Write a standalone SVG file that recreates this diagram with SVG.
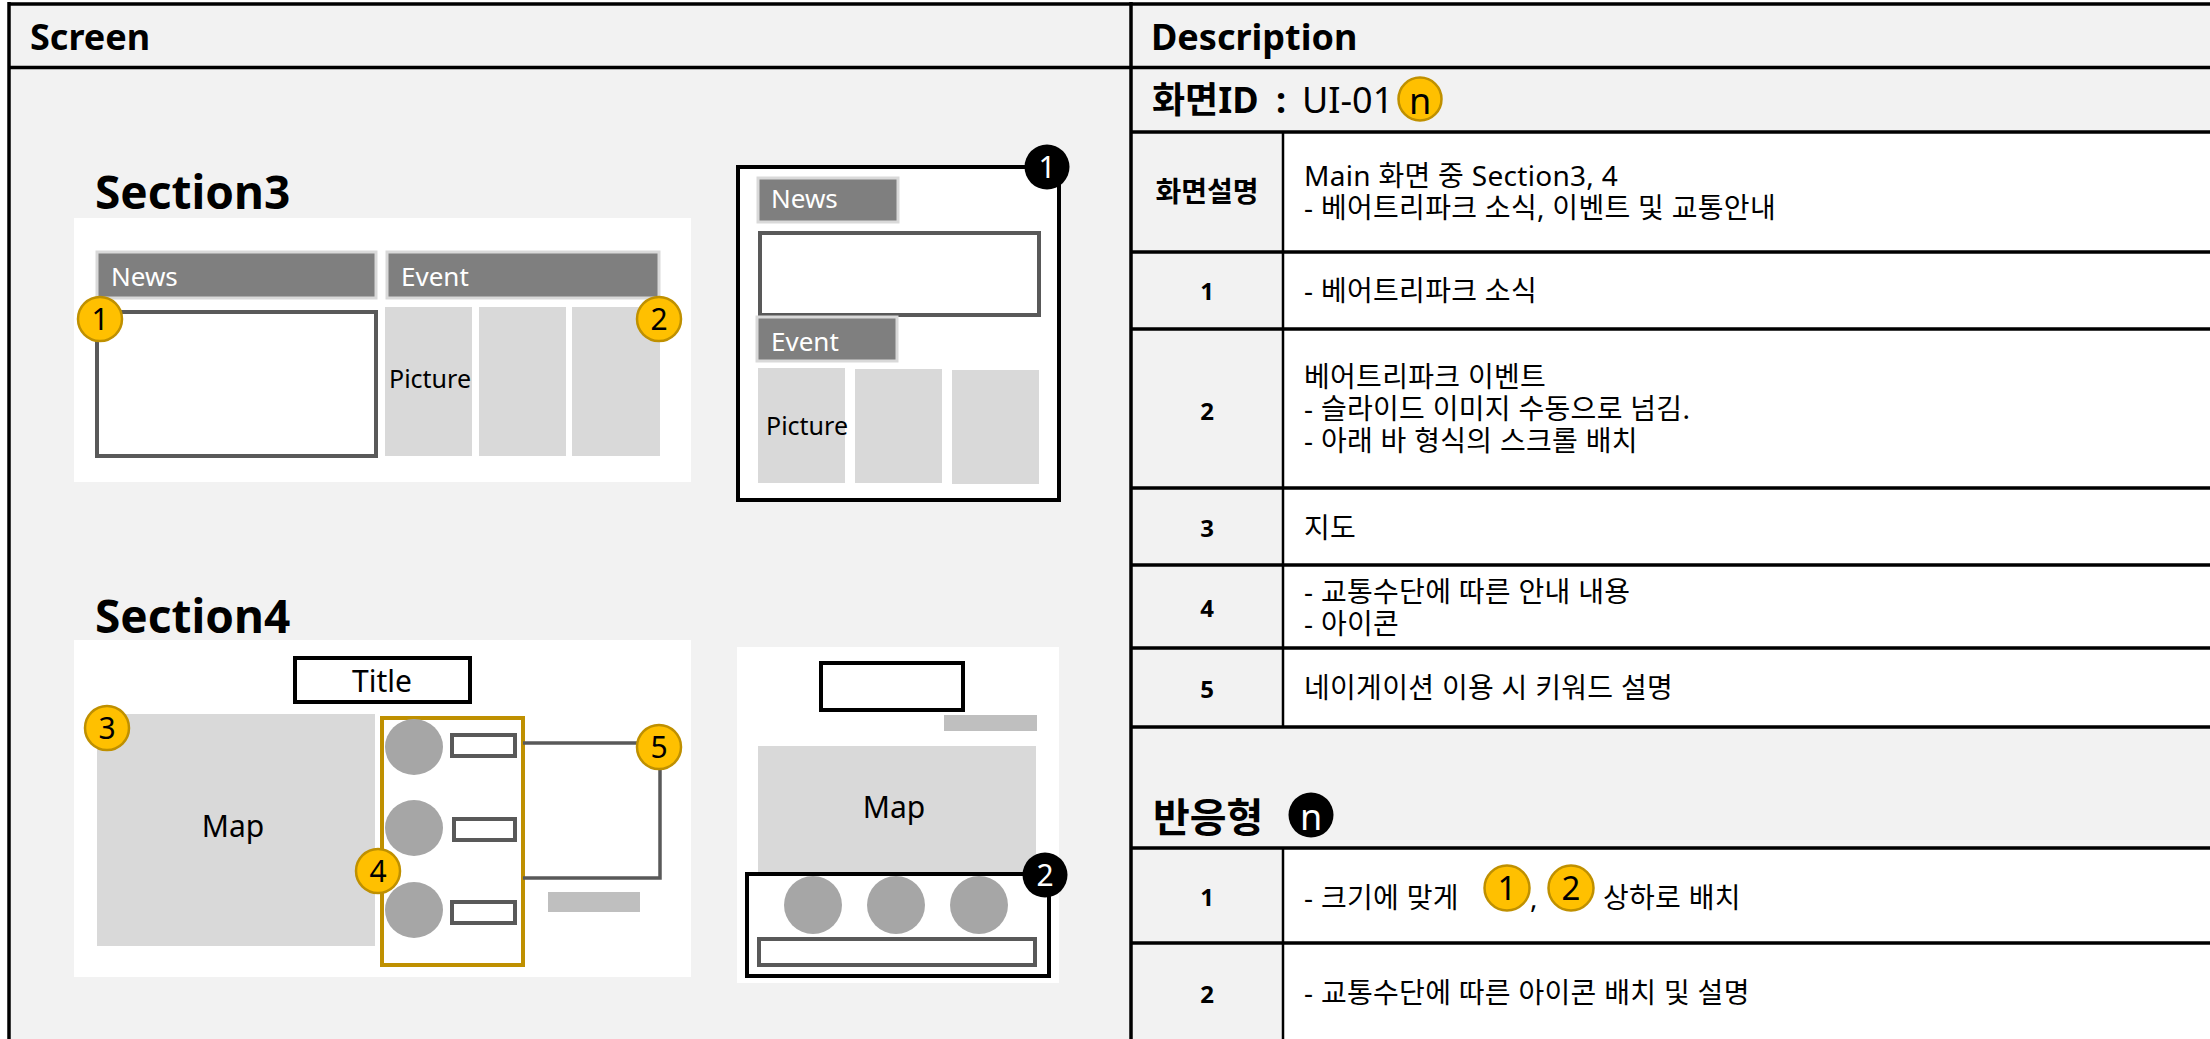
<svg xmlns="http://www.w3.org/2000/svg" width="2210" height="1039" viewBox="0 0 2210 1039">
<style>
text{font-family:"Noto Sans","Noto Sans CJK KR",sans-serif;fill:#000}
.hd{font-weight:bold;font-size:36px}
.sec{font-weight:bold;font-size:46px}
.bar{fill:#7F7F7F;stroke:#D9D9D9;stroke-width:3}
.bartx{fill:#fff;font-size:26px}
.box{fill:#fff;stroke:#595959;stroke-width:4}
.pic{fill:#D9D9D9}
.pt{font-size:25px}
.yb{fill:#FFC000;stroke:#BF9000;stroke-width:2.5}
.bb{fill:#000}
.bn{font-size:30px;text-anchor:middle}
.wn{font-size:30px;text-anchor:middle;fill:#fff}
.wn36{font-size:36px;text-anchor:middle;fill:#fff}
.circ{fill:#A6A6A6}
.tl{stroke:#000;stroke-width:3.5;fill:none}
.tn{stroke:#000;stroke-width:2.5;fill:none}
.d{font-size:28px;letter-spacing:0.3px}
.lb{font-size:24px;font-weight:bold;text-anchor:middle}
.lbk{font-size:28px;font-weight:bold;text-anchor:middle}
</style>
<rect x="0" y="0" width="2210" height="1039" fill="#fff"/>
<!-- Screen panel background -->
<rect x="9" y="3" width="1122" height="1036" fill="#F2F2F2"/>
<!-- Description backgrounds -->
<rect x="1131" y="3" width="1079" height="129" fill="#F2F2F2"/>
<rect x="1131" y="132" width="152" height="595" fill="#F2F2F2"/>
<rect x="1131" y="727" width="1079" height="121" fill="#F2F2F2"/>
<rect x="1131" y="848" width="152" height="191" fill="#F2F2F2"/>

<g id="table-lines">
<line class="tl" x1="9" y1="4" x2="2210" y2="4"/>
<line class="tl" x1="9" y1="67.5" x2="2210" y2="67.5"/>
<line class="tl" x1="9" y1="2" x2="9" y2="1039"/>
<line class="tl" x1="1131" y1="2" x2="1131" y2="1039"/>
<line class="tl" x1="1131" y1="132" x2="2210" y2="132"/>
<line class="tl" x1="1131" y1="252" x2="2210" y2="252"/>
<line class="tl" x1="1131" y1="329" x2="2210" y2="329"/>
<line class="tl" x1="1131" y1="488" x2="2210" y2="488"/>
<line class="tl" x1="1131" y1="565" x2="2210" y2="565"/>
<line class="tl" x1="1131" y1="648" x2="2210" y2="648"/>
<line class="tl" x1="1131" y1="727" x2="2210" y2="727"/>
<line class="tl" x1="1131" y1="848" x2="2210" y2="848"/>
<line class="tl" x1="1131" y1="943" x2="2210" y2="943"/>
<line class="tn" x1="1283" y1="132" x2="1283" y2="727"/>
<line class="tn" x1="1283" y1="848" x2="1283" y2="1039"/>
</g>

<g id="headers">
<text class="hd" x="30" y="50">Screen</text>
<text class="hd" x="1151" y="50">Description</text>
</g>

<!-- Section3 desktop -->
<g id="section3">
<text class="sec" x="95" y="209">Section3</text>
<rect x="74" y="218" width="617" height="264" fill="#fff"/>
<rect class="bar" x="97" y="252" width="279" height="46"/>
<text class="bartx" x="111" y="286">News</text>
<rect class="bar" x="387" y="252" width="272" height="46"/>
<text class="bartx" x="401" y="286">Event</text>
<rect class="box" x="97" y="312" width="279" height="144"/>
<rect class="pic" x="385" y="307" width="87" height="149"/>
<rect class="pic" x="479" y="307" width="87" height="149"/>
<rect class="pic" x="572" y="307" width="88" height="149"/>
<text class="pt" x="389" y="388">Picture</text>
</g>
<g id="badge-s3-1"><circle class="yb" cx="100" cy="319" r="22"/><text class="bn" x="100" y="330">1</text></g>
<g id="badge-s3-2"><circle class="yb" cx="659" cy="319" r="22"/><text class="bn" x="659" y="330">2</text></g>

<!-- Section3 mobile -->
<g id="section3-mobile">
<rect x="738" y="167" width="321" height="333" fill="#fff" stroke="#000" stroke-width="4"/>
<rect class="bar" x="758" y="178" width="140" height="44"/>
<text class="bartx" x="771" y="208">News</text>
<rect class="box" x="760" y="233" width="279" height="82"/>
<rect class="bar" x="757" y="317" width="140" height="44"/>
<text class="bartx" x="771" y="351">Event</text>
<rect class="pic" x="758" y="368" width="87" height="115"/>
<rect class="pic" x="855" y="369" width="87" height="114"/>
<rect class="pic" x="952" y="370" width="87" height="114"/>
<text class="pt" x="766" y="435">Picture</text>
</g>
<g id="badge-m3-1"><circle class="bb" cx="1047" cy="167" r="22.5"/><text class="wn" x="1047" y="178">1</text></g>

<!-- Section4 desktop -->
<g id="section4">
<text class="sec" x="95" y="633">Section4</text>
<rect x="74" y="640" width="617" height="337" fill="#fff"/>
<rect x="295" y="658" width="175" height="44" fill="#fff" stroke="#000" stroke-width="4"/>
<text x="382" y="692" font-size="30" text-anchor="middle">Title</text>
<rect class="pic" x="97" y="714" width="278" height="232"/>
<text x="233" y="837" font-size="30" text-anchor="middle">Map</text>
<rect x="382" y="718" width="141" height="247" fill="#fff" stroke="#BF9000" stroke-width="4"/>
<ellipse class="circ" cx="414" cy="747" rx="29" ry="28"/>
<ellipse class="circ" cx="414" cy="828" rx="29" ry="28"/>
<ellipse class="circ" cx="414" cy="910" rx="29" ry="28"/>
<rect class="box" x="452" y="735" width="63" height="21"/>
<rect class="box" x="454" y="819" width="61" height="21"/>
<rect class="box" x="452" y="902" width="63" height="21"/>
<rect x="548" y="892" width="92" height="20" fill="#BFBFBF"/>
</g>
<g id="connectors">
<path d="M523,743 H660 V878 H523" fill="none" stroke="#595959" stroke-width="3.5"/>
</g>
<g id="badge-s4-3"><circle class="yb" cx="107" cy="728" r="22"/><text class="bn" x="107" y="739">3</text></g>
<g id="badge-s4-4"><circle class="yb" cx="378" cy="871" r="22"/><text class="bn" x="378" y="882">4</text></g>
<g id="badge-s4-5"><circle class="yb" cx="659" cy="747" r="22"/><text class="bn" x="659" y="758">5</text></g>

<!-- Section4 mobile -->
<g id="section4-mobile">
<rect x="737" y="647" width="322" height="336" fill="#fff"/>
<rect x="821" y="663" width="142" height="47" fill="#fff" stroke="#000" stroke-width="4"/>
<rect x="944" y="715" width="93" height="16" fill="#BFBFBF"/>
<rect class="pic" x="758" y="746" width="278" height="127"/>
<text x="894" y="818" font-size="30" text-anchor="middle">Map</text>
<rect x="747" y="874" width="302" height="102" fill="#fff" stroke="#000" stroke-width="4"/>
<circle class="circ" cx="813" cy="905" r="29"/>
<circle class="circ" cx="896" cy="905" r="29"/>
<circle class="circ" cx="979" cy="905" r="29"/>
<rect class="box" x="759" y="939" width="276" height="26"/>
</g>
<g id="badge-m4-2"><circle class="bb" cx="1045" cy="875" r="22.5"/><text class="wn" x="1045" y="886">2</text></g>

<!-- Description content -->
<g id="screen-id">
<text x="1152" y="113" font-size="36" font-weight="bold">화면ID</text>
<text x="1276" y="113" font-size="36" font-weight="bold">:</text>
<text x="1302" y="113" font-size="36">UI-01</text>
<circle class="yb" cx="1420" cy="99" r="21.5"/>
<text x="1420" y="114" font-size="36" text-anchor="middle">n</text>
</g>
<g id="row-desc">
<text class="lbk" x="1207" y="202">화면설명</text>
<text class="d" x="1304" y="186"><tspan x="1304" y="186">Main 화면 중 Section3, 4</tspan><tspan x="1304" y="218">- 베어트리파크 소식, 이벤트 및 교통안내</tspan></text>
</g>
<g id="row-1">
<text class="lb" x="1207" y="300">1</text>
<text class="d" x="1304" y="301">- 베어트리파크 소식</text>
</g>
<g id="row-2">
<text class="lb" x="1207" y="420">2</text>
<text class="d" x="1304" y="387"><tspan x="1304" y="387">베어트리파크 이벤트</tspan><tspan x="1304" y="419">- 슬라이드 이미지 수동으로 넘김.</tspan><tspan x="1304" y="451">- 아래 바 형식의 스크롤 배치</tspan></text>
</g>
<g id="row-3">
<text class="lb" x="1207" y="537">3</text>
<text class="d" x="1304" y="538">지도</text>
</g>
<g id="row-4">
<text class="lb" x="1207" y="617">4</text>
<text class="d" x="1304" y="602"><tspan x="1304" y="602">- 교통수단에 따른 안내 내용</tspan><tspan x="1304" y="634">- 아이콘</tspan></text>
</g>
<g id="row-5">
<text class="lb" x="1207" y="698">5</text>
<text class="d" x="1304" y="698">네이게이션 이용 시 키워드 설명</text>
</g>
<g id="responsive-title">
<text x="1153" y="832" font-size="40" font-weight="bold">반응형</text>
<circle class="bb" cx="1311" cy="815" r="22.5"/>
<text class="wn36" x="1311" y="830">n</text>
</g>
<g id="resp-row-1">
<text class="lb" x="1207" y="906">1</text>
<text class="d" x="1304" y="908">- 크기에 맞게</text>
<circle class="yb" cx="1507" cy="888" r="22.5"/>
<text x="1507" y="900" font-size="33" text-anchor="middle">1</text>
<text class="d" x="1530" y="908">,</text>
<circle class="yb" cx="1571" cy="888" r="22.5"/>
<text x="1571" y="900" font-size="33" text-anchor="middle">2</text>
<text class="d" x="1603" y="908">상하로 배치</text>
</g>
<g id="resp-row-2">
<text class="lb" x="1207" y="1003">2</text>
<text class="d" x="1304" y="1003">- 교통수단에 따른 아이콘 배치 및 설명</text>
</g>
</svg>
